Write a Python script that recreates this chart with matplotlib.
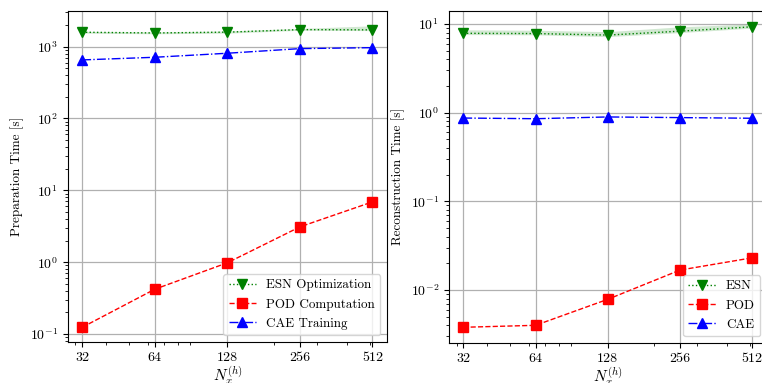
import numpy as np
import matplotlib
matplotlib.use('Agg')
import matplotlib.pyplot as plt
from matplotlib.ticker import NullFormatter

plt.rcParams['font.family'] = 'serif'
plt.rcParams['font.serif'] = ['cmr10']
plt.rcParams['mathtext.fontset'] = 'cm'
plt.rcParams['axes.formatter.use_mathtext'] = True
plt.rcParams['font.size'] = 10

# grid sizes
nx = [32, 64, 128, 256, 512]
nx_labels = ['32', '64', '128', '256', '512']

# preparation time [s]
esn_opt = [1585, 1550, 1590, 1725, 1710]
esn_opt_lo = [1540, 1510, 1540, 1690, 1670]
esn_opt_hi = [1630, 1600, 1650, 1790, 1950]
pod_comp = [0.124, 0.42, 0.98, 3.1, 6.9]
cae_train = [653, 711, 809, 938, 968]

# reconstruction time [s]
esn_rec = [7.85, 7.8, 7.5, 8.3, 9.3]
esn_rec_lo = [7.6, 7.55, 7.2, 8.0, 9.0]
esn_rec_hi = [8.6, 8.5, 8.2, 9.3, 10.0]
pod_rec = [0.0038, 0.0040, 0.00786, 0.0168, 0.0231]
cae_rec = [0.87, 0.855, 0.895, 0.88, 0.865]

W, H = 762, 383
fig = plt.figure(figsize=(W / 100, H / 100), dpi=100)
ax1 = fig.add_axes([67.7 / W, (H - 341.7) / H, (387 - 67.7) / W, (341.7 - 10.7) / H])
ax2 = fig.add_axes([448.8 / W, (H - 342.7) / H, (766.8 - 448.8) / W, (342.7 - 10.7) / H])


def draw(ax, esn, lo, hi, pod, cae, names, ylabel):
    ax.fill_between(nx, lo, hi, color='green', alpha=0.18, linewidth=0)
    ax.plot(nx, esn, color='green', linestyle=':', marker='v', markersize=6.5, linewidth=1, label=names[0])
    ax.plot(nx, pod, color='red', linestyle='--', marker='s', markersize=6.5, linewidth=1, label=names[1])
    ax.plot(nx, cae, color='blue', linestyle='-.', marker='^', markersize=6.5, linewidth=1, label=names[2])
    ax.set_xscale('log')
    ax.set_yscale('log')
    ax.set_xticks(nx)
    ax.set_xticklabels(nx_labels)
    ax.xaxis.set_minor_formatter(NullFormatter())
    ax.grid(True, which='major', color='#b0b0b0', linewidth=0.9)
    ax.set_axisbelow(True)
    ax.set_xlabel(r'$N_x^{(h)}$', labelpad=1, fontsize=11)
    ax.set_ylabel(ylabel, labelpad=4, fontsize=9.5)
    ax.legend(loc='lower right', framealpha=0.8, borderaxespad=0.5,
              fontsize=9.4, handlelength=2.1, labelspacing=0.55)


draw(ax1, esn_opt, esn_opt_lo, esn_opt_hi, pod_comp, cae_train,
     ['ESN Optimization', 'POD Computation', 'CAE Training'], 'Preparation Time [s]')
ax1.set_ylim(10 ** -1.107, 10 ** 3.5)

draw(ax2, esn_rec, esn_rec_lo, esn_rec_hi, pod_rec, cae_rec,
     ['ESN', 'POD', 'CAE'], 'Reconstruction Time [s]')
ax2.set_ylim(10 ** -2.594, 10 ** 1.15)

fig.savefig('out.png', dpi=100)
